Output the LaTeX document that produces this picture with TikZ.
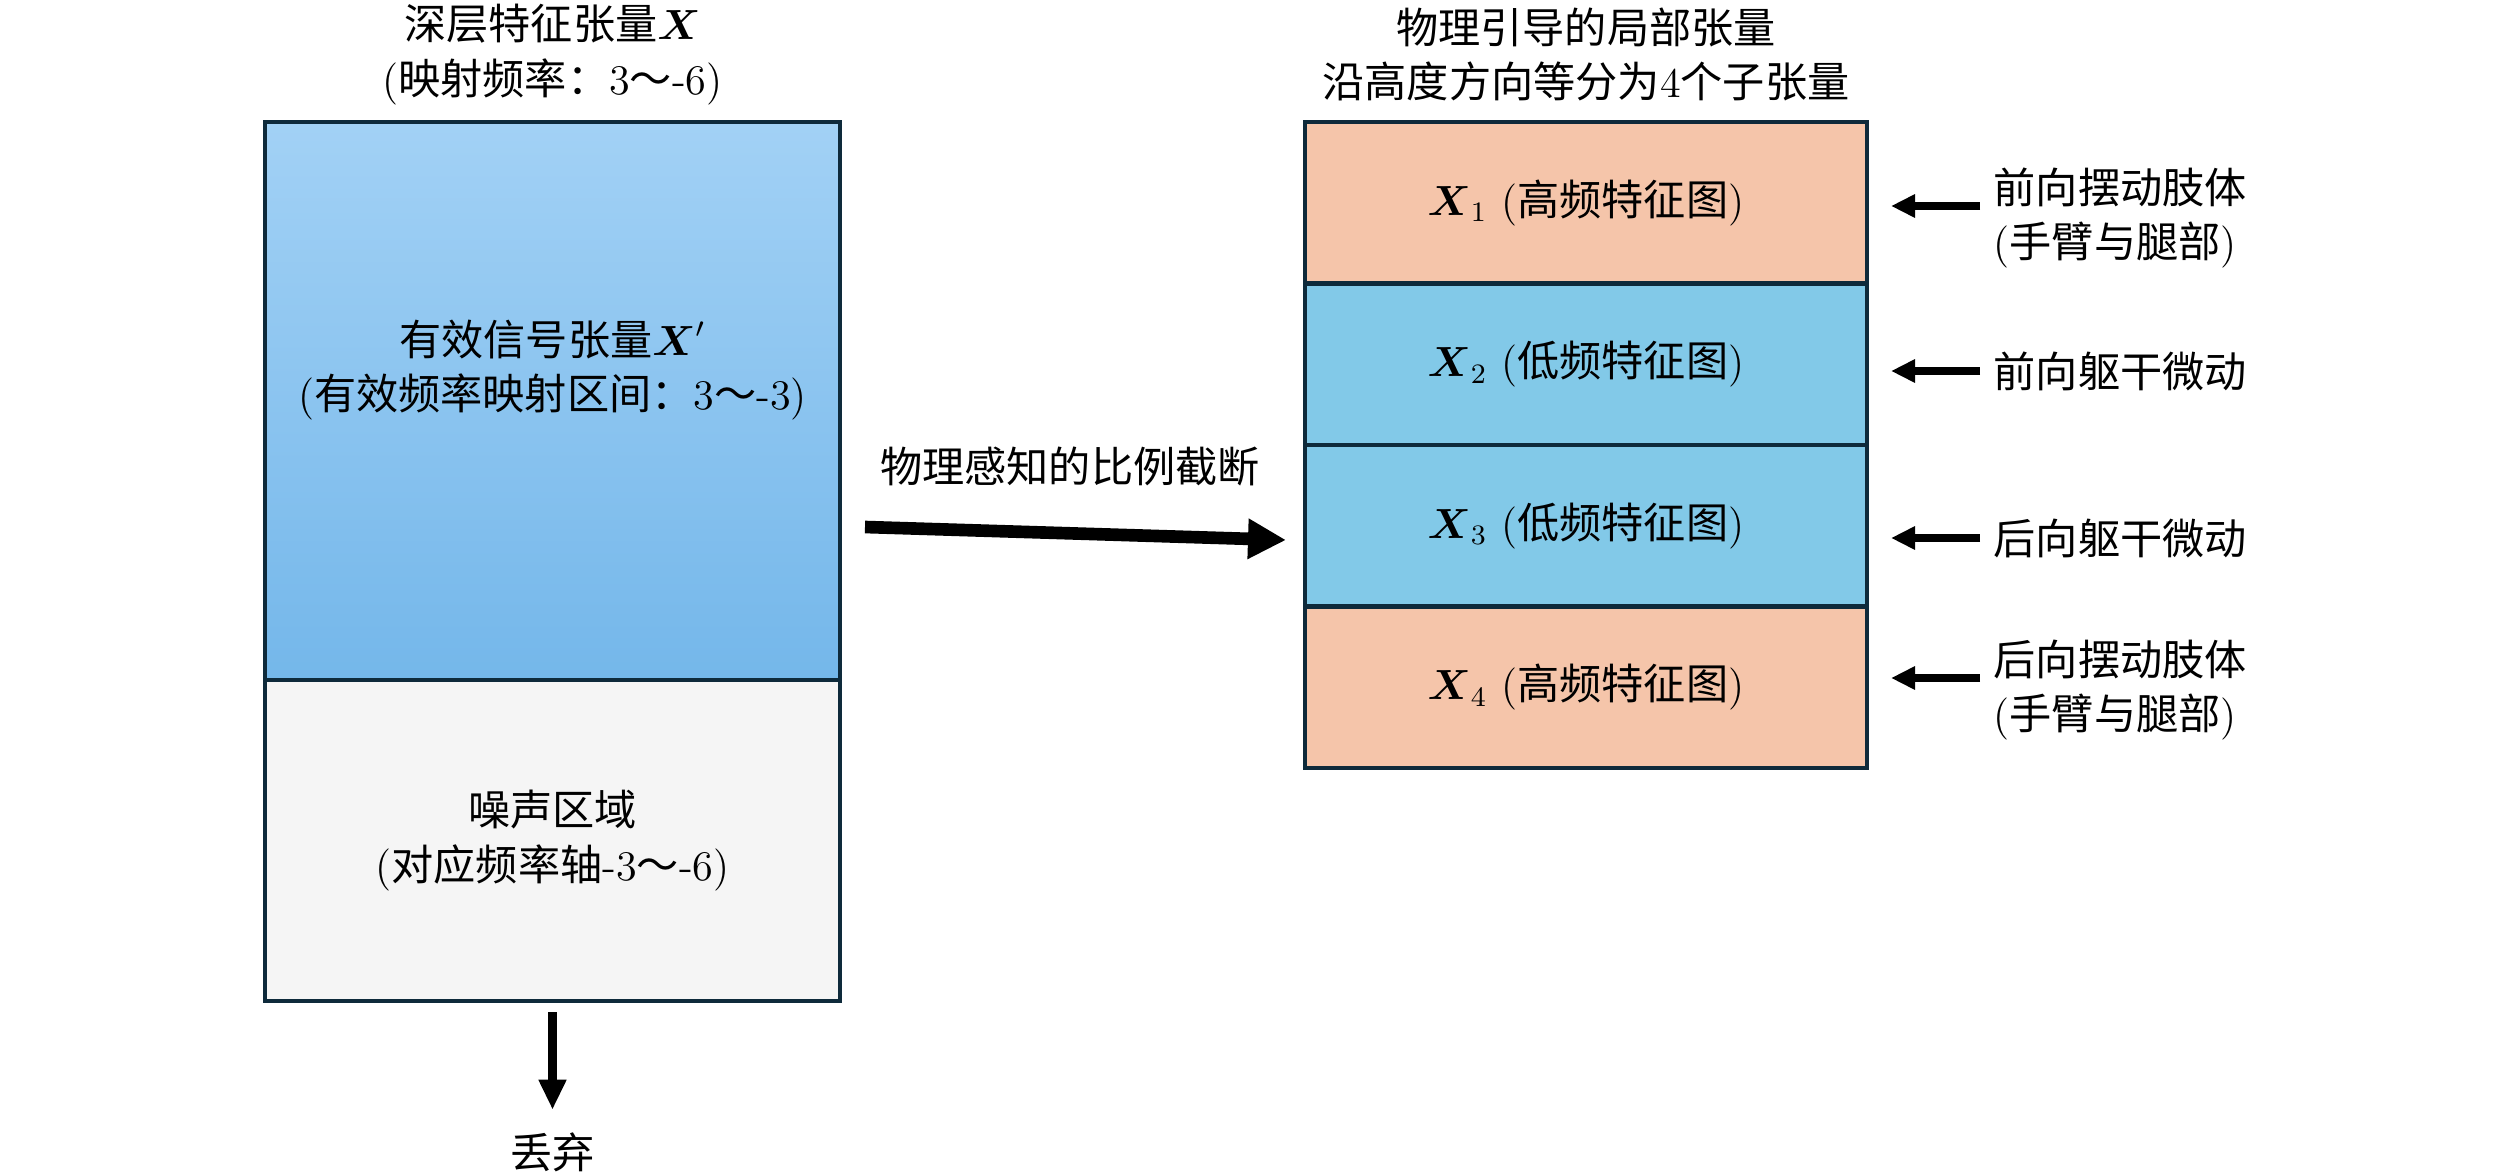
\documentclass[tikz,border=0pt]{standalone}
\usepackage{amsmath}
\usepackage{fontspec}
\newfontfamily\cjk{Noto Sans CJK SC}
\newcommand{\zh}[1]{{\cjk #1}}
\usetikzlibrary{calc}
\usetikzlibrary{arrows.meta}
\usetikzlibrary{positioning}

\definecolor{sigtop}{HTML}{A2D1F5}
\definecolor{sigbot}{HTML}{74B7EA}
\definecolor{noisefill}{HTML}{F5F5F5}
\definecolor{edgecol}{HTML}{0E2A3B}
\definecolor{highfill}{HTML}{F5C5AA}
\definecolor{lowfill}{HTML}{82C9E8}

\begin{document}
\begin{tikzpicture}[
    font=\fontsize{12}{15.5}\selectfont,
    blk/.style={rectangle,draw=edgecol,line width=1.2pt,inner sep=0pt,outer sep=0pt},
    seg/.style={blk,minimum width=5.62cm,minimum height=1.615cm},
    txt/.style={align=center,inner sep=0pt},
    bigarr/.style={-{Triangle[length=3.8mm,width=3.8mm]},line width=3.6pt},
    downarr/.style={-{Triangle[length=3mm,width=2.6mm]},line width=2.4pt},
    sidearr/.style={-{Triangle[length=2.4mm,width=2.2mm]},line width=2pt}
  ]
  \path[use as bounding box] (0,0) rectangle (25.2,-11.75);
  % Deep feature tensor.
  \node[txt] (deeptitle) at (5.525,-0.545)
    {\zh{深层特征张量}$\boldsymbol{X}$\\(\zh{映射频率：}3\zh{～}-6)};
  \node[blk,top color=sigtop,bottom color=sigbot,minimum width=5.75cm,minimum height=5.58cm]
    (sig) at (5.525,-4.01) {};
  \node[blk,fill=noisefill,minimum width=5.75cm,minimum height=3.21cm]
    (noise) at (5.525,-8.405) {};
  \node[txt] (sigtxt) at ([yshift=3.1mm]sig.center)
    {\zh{有效信号张量}$\boldsymbol{X}'$\\(\zh{有效频率映射区间：}3\zh{～}-3)};
  \node[txt] (noisetxt) at (noise.center)
    {\zh{噪声区域}\\(\zh{对应频率轴}-3\zh{～}-6)};
  \node[txt] (drop) at (5.525,-11.52) {\zh{丢弃}};
  \draw[downarr] ([yshift=-1.1mm]noise.south) -- ([yshift=2.2mm]drop.north);
  % Truncation.
  \coordinate (cutfrom) at (8.65,-5.27);
  \coordinate (cutto) at (12.86,-5.40);
  \draw[bigarr] (cutfrom) -- (cutto);
  \node[txt] (cutlab) at (10.70,-4.66) {\zh{物理感知的比例截断}};
  % Local sub-tensors.
  \node[txt] (loctitle) at (15.86,-0.545)
    {\zh{物理引导的局部张量}\\\zh{沿高度方向等分为}4\zh{个子张量}};
  \node[seg,fill=highfill] (seg1) at (15.86,-2.0275) {$\boldsymbol{X}_1$ (\zh{高频特征图})};
  \node[seg,fill=lowfill,below=0pt of seg1] (seg2) {$\boldsymbol{X}_2$ (\zh{低频特征图})};
  \node[seg,fill=lowfill,below=0pt of seg2] (seg3) {$\boldsymbol{X}_3$ (\zh{低频特征图})};
  \node[seg,fill=highfill,below=0pt of seg3] (seg4) {$\boldsymbol{X}_4$ (\zh{高频特征图})};
  % Body parts.
  \node[txt,align=left,anchor=west] (lab1) at (19.93,-2.18) {\zh{前向摆动肢体}\\(\zh{手臂与腿部})};
  \node[txt,align=left,anchor=west] (lab2) at (19.93,-3.71) {\zh{前向躯干微动}};
  \node[txt,align=left,anchor=west] (lab3) at (19.93,-5.38) {\zh{后向躯干微动}};
  \node[txt,align=left,anchor=west] (lab4) at (19.93,-6.90) {\zh{后向摆动肢体}\\(\zh{手臂与腿部})};
  \draw[sidearr] ([xshift=-1.3mm,yshift=1.2mm]lab1.west) -- ([xshift=2.4mm,yshift=1.2mm]seg1.east |- lab1.west);
  \draw[sidearr] ([xshift=-1.3mm]lab2.west) -- ([xshift=2.4mm]seg2.east |- lab2.west);
  \draw[sidearr] ([xshift=-1.3mm]lab3.west) -- ([xshift=2.4mm]seg3.east |- lab3.west);
  \draw[sidearr] ([xshift=-1.3mm,yshift=1.2mm]lab4.west) -- ([xshift=2.4mm,yshift=1.2mm]seg4.east |- lab4.west);
\end{tikzpicture}
\end{document}
